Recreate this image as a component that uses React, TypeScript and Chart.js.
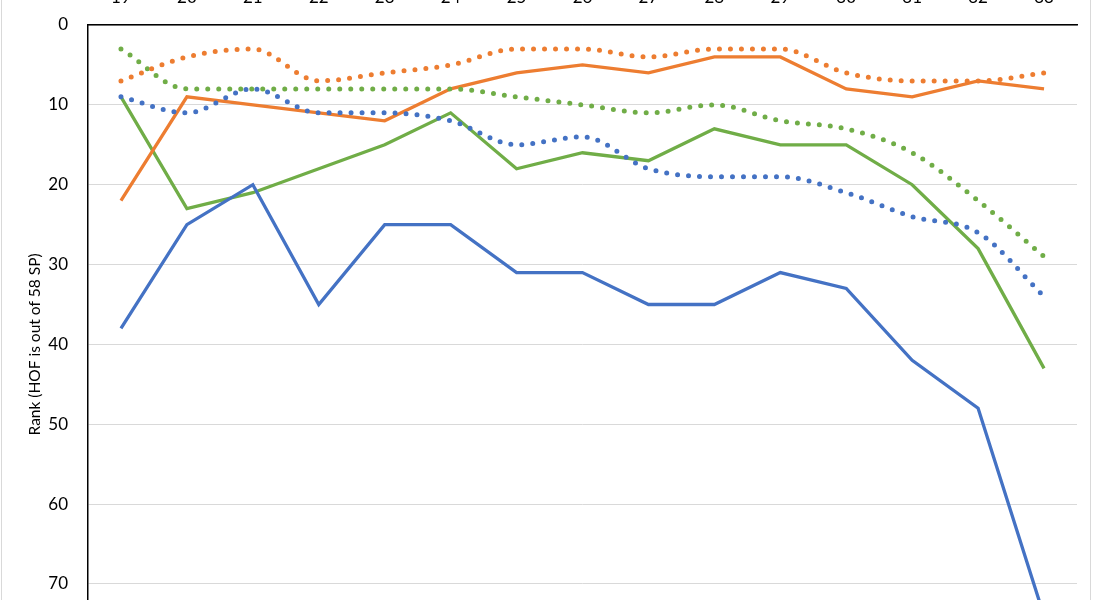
import React, { useEffect, useRef } from "react";
import { Chart, registerables } from "chart.js";

Chart.register(...registerables);

const categories = ["19", "20", "21", "22", "23", "24", "25", "26", "27", "28", "29", "30", "31", "32", "33"];

const blueSolid = [38, 25, 20, 35, 25, 25, 31, 31, 35, 35, 31, 33, 42, 48, 74];
const blueDotted = [9, 11, 8, 11, 11, 12, 15, 14, 18, 19, 19, 21, 24, 26, 34];
const orangeSolid = [22, 9, 10, 11, 12, 8, 6, 5, 6, 4, 4, 8, 9, 7, 8];
const orangeDotted = [7, 4, 3, 7, 6, 5, 3, 3, 4, 3, 3, 6, 7, 7, 6];
const greenSolid = [9, 23, 21, 18, 15, 11, 18, 16, 17, 13, 15, 15, 20, 28, 43];
const greenDotted = [3, 8, 8, 8, 8, 8, 9, 10, 11, 10, 12, 13, 16, 22, 29];

const yTicks = [0, 10, 20, 30, 40, 50, 60, 70, 80];

const BLUE = "#4472C4";
const ORANGE = "#ED7D31";
const GREEN = "#70AD47";

export default function App() {
  const ref = useRef<HTMLCanvasElement | null>(null);

  useEffect(() => {
    if (!ref.current) return;
    const solid = (label: string, data: number[], color: string) => ({
      label,
      data,
      borderColor: color,
      backgroundColor: color,
      borderWidth: 3.3,
      pointRadius: 0,
      tension: 0,
      fill: false,
    });
    const dotted = (label: string, data: number[], color: string) => ({
      label,
      data,
      borderColor: color,
      backgroundColor: color,
      borderWidth: 5,
      borderDash: [0, 11],
      borderCapStyle: "round" as const,
      pointRadius: 0,
      tension: 0.4,
      cubicInterpolationMode: "monotone" as const,
      fill: false,
    });
    const chart = new Chart(ref.current, {
      type: "line",
      data: {
        labels: categories,
        datasets: [
          dotted("Player 1 (HOF avg)", blueDotted, BLUE),
          dotted("Player 2 (HOF avg)", orangeDotted, ORANGE),
          dotted("Player 3 (HOF avg)", greenDotted, GREEN),
          solid("Player 1", blueSolid, BLUE),
          solid("Player 2", orangeSolid, ORANGE),
          solid("Player 3", greenSolid, GREEN),
        ],
      },
      options: {
        animation: false,
        responsive: true,
        maintainAspectRatio: false,
        layout: { padding: { left: 0, right: 18, top: 0, bottom: 20 } },
        plugins: {
          legend: { display: false },
          tooltip: { enabled: false },
        },
        scales: {
          x: {
            type: "category",
            position: "top",
            offset: true,
            grid: { display: false, drawTicks: false },
            border: { display: true, color: "#000", width: 1.5 },
            ticks: {
              color: "#000",
              font: { family: "Lato", size: 17 },
              padding: 17,
              maxRotation: 0,
              autoSkip: false,
            },
            afterFit: (s: any) => {
              s.height = 65;
            },
          },
          y: {
            reverse: true,
            min: 0,
            max: 80,
            afterBuildTicks: (s: any) => {
              s.ticks = yTicks.map((v) => ({ value: v }));
            },
            grid: { color: "#D9D9D9", lineWidth: 1, drawTicks: false },
            border: { display: true, color: "#000", width: 1.5 },
            ticks: {
              color: "#000",
              font: { family: "Lato", size: 17 },
              padding: 20,
            },
            title: {
              display: true,
              text: "Rank (HOF is out of 58 SP)",
              color: "#000",
              font: { family: "Lato", size: 15.5 },
              padding: { top: 26, bottom: 0 },
            },
            afterFit: (s: any) => {
              s.width = 88;
            },
          },
        },
      },
    });
    return () => chart.destroy();
  }, []);

  return (
    <div
      style={{
        position: "fixed",
        left: 0,
        top: 0,
        width: 1095,
        height: 600,
        overflow: "hidden",
        background: "#fff",
      }}
    >
      <div
        style={{
          position: "absolute",
          left: 1,
          top: -40,
          width: 1090,
          height: 800,
          border: "1px solid #D9D9D9",
          boxSizing: "border-box",
        }}
      />
      <div style={{ position: "absolute", left: 0, top: -40, width: 1095, height: 734 }}>
        <canvas ref={ref} />
      </div>
    </div>
  );
}
